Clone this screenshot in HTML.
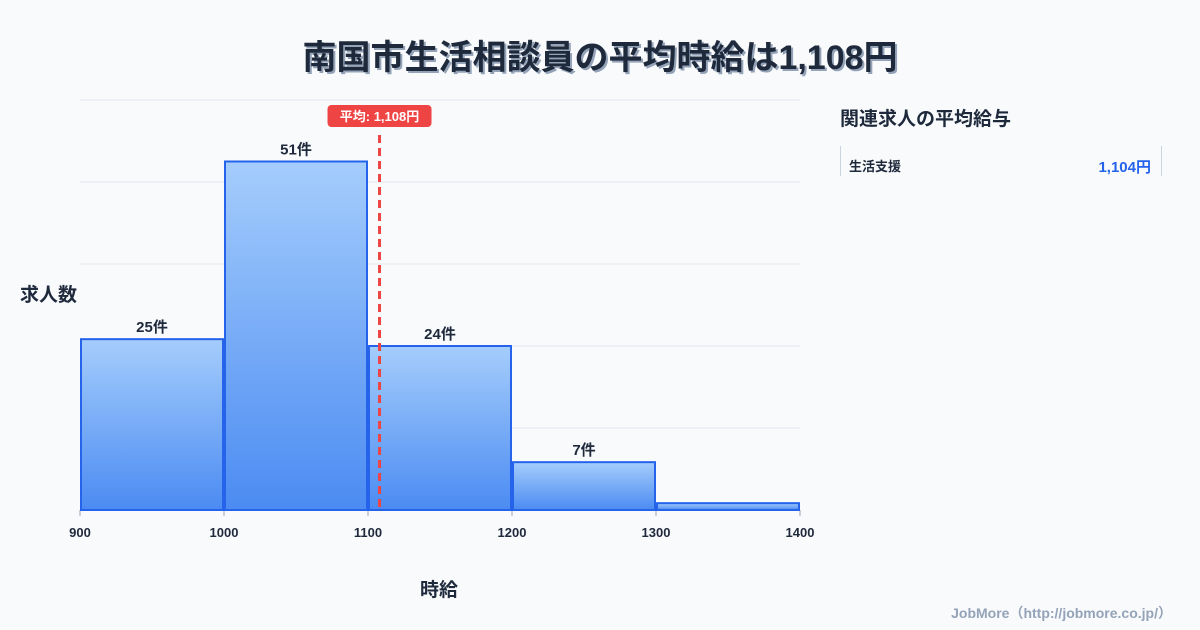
<!DOCTYPE html>
<html><head><meta charset="utf-8"><style>
body{margin:0;width:1200px;height:630px;background:#f8fafc;font-family:"Liberation Sans","Noto Sans CJK JP",sans-serif;overflow:hidden;position:relative}
.t{position:absolute;color:#1e293b;font-weight:bold}
</style></head><body>
<div class="t" style="left:0;width:1200px;top:30px;text-align:center;font-size:34px;text-shadow:2px 2px 0 #94a3b8">南国市生活相談員の平均時給は1,108円</div>
<div class="t" style="left:20px;top:280px;font-size:19px">求人数</div>
<div class="t" style="left:420px;top:575px;font-size:19px">時給</div>
<div class="t" style="left:840px;top:104px;font-size:19px">関連求人の平均給与</div>
<div style="position:absolute;left:840px;top:146px;width:320px;height:30px;border-left:1px solid #cbd5e1;border-right:1px solid #cbd5e1">
<span style="position:absolute;left:8px;top:10px;font-size:13px;font-weight:bold;color:#1e293b">生活支援</span>
<span style="position:absolute;right:10px;top:10px;font-size:15px;font-weight:bold;color:#2563eb">1,104円</span></div>
<div style="position:absolute;right:28px;top:603px;font-size:14px;font-weight:bold;color:#94a3b8">JobMore（http://jobmore.co.jp/）</div>
<svg id="c" width="1200" height="630" style="position:absolute;left:0;top:0">
<defs><linearGradient id="g" x1="0" y1="0" x2="0" y2="1"><stop offset="0" stop-color="#a5cdfc"/><stop offset="1" stop-color="#4b8bf2"/></linearGradient></defs>
</svg>
<script>
const binStarts=[900,1000,1100,1200,1300];
const counts=[25,51,24,7,1];
const xTicks=[900,1000,1100,1200,1300,1400];
const yTicks=[0,12,24,36,48,60];
const meanValue=1108;
const svg=document.getElementById('c');const NS='http://www.w3.org/2000/svg';
const X=v=>80+(v-900)*720/500, Y=v=>510-v*410/60;
function mk(t,a){const e=document.createElementNS(NS,t);for(const k in a)e.setAttribute(k,a[k]);svg.appendChild(e);return e;}
yTicks.forEach(v=>{const l=mk('line',{x1:80,x2:800,y1:Y(v),y2:Y(v),stroke:'#e2e8f0'});

});
xTicks.forEach(v=>{const t=mk('text',{x:X(v),y:537,'text-anchor':'middle','font-size':13,'font-weight':'bold',fill:'#1e293b'});t.textContent=v;


const l=mk('line',{x1:X(v),x2:X(v),y1:510,y2:516,stroke:'#94a3b8'});

});
binStarts.forEach((b,i)=>{const x0=X(b)+1,x1=X(b+100)-1,y=Y(counts[i]);
const r=mk('rect',{x:x0,y:y,width:x1-x0,height:510-y,fill:'url(#g)',stroke:'#2563eb','stroke-width':2});


if(counts[i]>=5){const t=mk('text',{x:(x0+x1)/2,y:y-7,'text-anchor':'middle','font-size':15,'font-weight':'bold',fill:'#1e293b'});t.textContent=counts[i]+'件';

}});
const mx=X(meanValue);
const ml=mk('line',{x1:mx,x2:mx,y1:135,y2:510,stroke:'#ef4444','stroke-width':3,'stroke-dasharray':'8,5'});


const mb=mk('rect',{x:mx-52,y:105,width:104,height:22,rx:4,fill:'#ef4444'});


const mt=mk('text',{x:mx,y:121,'text-anchor':'middle','font-size':13,'font-weight':'bold',fill:'#fff'});mt.textContent='平均: 1,108円';


</script>
</body></html>
